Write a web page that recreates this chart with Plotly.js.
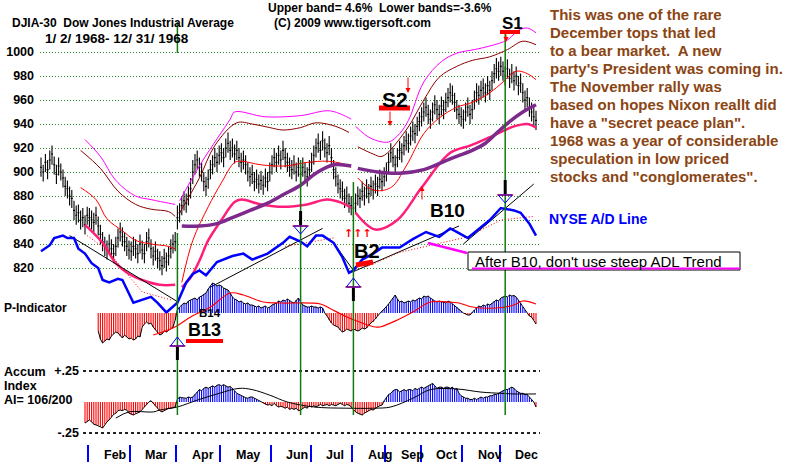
<!DOCTYPE html>
<html><head><meta charset="utf-8">
<script src="https://cdn.plot.ly/plotly-3.0.1.min.js"></script>
<style>html,body{margin:0;padding:0;background:#fff;}#chart{width:800px;height:462px;}</style>
</head><body><div id="chart"></div>
<script>
// ---------------- DATA ----------------
const months = ['Feb','Mar','Apr','May','Jun','Jul','Aug','Sep','Oct','Nov','Dec'];
const monthDays = [22,19,21,20,23,18,19,15,16,19,17,17];
const priceTicks = [820,840,860,880,900,920,940,960,980,1000];
const aiTicks = [0.25,-0.25];
const aiTickText = ['+.25','-.25'];

const closes = [
904,900,908,902,910,915,906,898,905,900,895,888,886,880,878,868,864,866,860,862,856,864,
862,860,858,864,855,848,842,838,835,840,836,832,838,845,850,846,842,838,835,
834,838,836,832,840,835,832,842,845,836,830,834,828,826,822,828,825,830,836,840,842,
862,866,872,876,874,880,886,900,906,910,904,900,892,888,894,902,906,912,908,914,
916,912,920,924,918,920,915,918,912,908,910,906,900,896,898,892,894,890,893,889,895,892,900,
906,912,908,914,910,918,912,908,904,902,906,900,904,898,904,900,896,902,
908,914,920,924,918,926,920,916,922,912,902,896,890,886,884,878,880,874,872,
870,874,880,878,884,880,886,882,888,885,890,888,894,892,896,
900,908,916,912,906,912,918,916,922,926,924,930,934,932,938,942,
946,950,954,948,944,950,956,952,948,955,952,958,962,966,964,958,952,948,946,
944,950,954,948,952,960,966,964,968,970,966,972,968,976,982,986,984,
988,984,980,986,978,982,976,980,972,974,966,960,962,954,950,946,943];
const highs = [
912,906,915,910,918,922,913,906,912,907,902,896,893,888,885,876,872,873,868,870,864,871,
870,868,866,871,863,856,850,846,843,848,844,840,846,853,858,854,850,846,843,
842,846,844,840,848,843,840,850,853,844,838,842,836,834,830,836,833,838,844,848,850,
872,874,880,884,882,888,895,910,915,918,912,908,900,896,902,910,914,920,916,922,
924,920,928,933,926,928,923,926,920,916,918,914,908,904,906,900,902,898,901,897,903,900,908,
914,920,916,922,918,926,920,916,912,910,914,908,912,906,912,908,904,910,
916,922,928,932,926,934,928,924,930,920,910,904,898,894,892,886,888,882,880,
878,882,888,886,892,888,894,890,896,893,898,896,902,900,904,
908,916,924,920,914,920,926,924,930,934,932,938,942,940,946,950,
954,958,962,956,952,958,964,960,956,963,960,966,970,974,972,966,960,956,954,
952,958,962,956,960,968,974,972,976,978,974,980,976,984,990,995,992,
996,992,988,994,986,990,984,988,980,982,974,968,970,962,958,954,951];
const lows = [
896,892,900,894,902,906,898,890,897,893,887,880,878,872,870,860,856,858,852,854,848,856,
854,852,850,856,847,840,834,830,827,832,828,824,830,837,842,838,834,830,827,
826,830,828,824,832,827,824,834,837,828,822,826,820,818,814,820,817,822,828,832,834,
852,858,864,868,866,872,878,890,898,902,896,892,884,880,886,894,898,904,900,906,
908,904,912,916,910,912,907,910,904,900,902,898,892,888,890,884,886,882,885,881,887,884,892,
898,904,900,906,902,910,904,900,896,894,898,892,896,890,896,892,888,894,
900,906,912,916,910,918,912,908,914,904,894,888,882,878,876,870,872,866,864,
862,866,872,870,876,872,878,874,880,877,882,880,886,884,888,
892,900,908,904,898,904,910,908,914,918,916,922,926,924,930,934,
938,942,946,940,936,942,948,944,940,947,944,950,954,958,956,950,944,940,938,
936,942,946,940,944,952,958,956,960,962,958,964,960,968,974,978,976,
980,976,972,978,970,974,968,972,964,966,958,952,954,946,942,938,935];

// bands (sparse readings, null = break)
const upperIdx = [20,27,34,43,50,58,61,null,63,73,86,88,102,118,131,139,141,null,143,150,158,163,167,174,182,189,197,204,212,217,221,225];
const upperVal = [927,913,893,880,877,874,873,null,876,908,944,950,946,947,951,946,944,null,938,928,925,932,943,975,992,999,1002,1005,1010,1018,1020,1016];
const maroonIdx = [18,27,35,43,50,58,61,null,63,72,79,89,96,104,110,118,125,134,140,null,144,151,155,166,174,181,189,196,204,212,219,225];
const maroonVal = [918,903,884,873,869,867,863,null,866,895,922,941,940,937,935,937,941,938,933,null,921,915,913,935,960,979,988,993,996,1002,1009,1006];
const maIdx = [18,25,30,37,43,50,58,61,null,64,69,76,82,88,91,100,111,121,130,137,141,null,144,151,159,166,174,181,189,196,204,210,216,221,225];
const maVal = [887,877,861,851,843,840,838,836,null,808,843,871,891,908,909,906,905,908,909,907,904,null,895,885,887,905,932,945,954,958,966,975,984,982,977];
const lowerIdx = [20,28,34,40,46,54,61,null,64,68,72,76,82,88,91,100,110,121,130,137,141,null,143,152,162,173,186,195,204,215,221,225];
const lowerVal = [856,841,824,815,810,806,806,null,804,812,826,843,860,875,877,873,871,873,877,874,870,null,866,852,860,887,916,922,929,938,940,937];
const longIdx = [64,72,80,87,95,103,110,118,125,133,141,null,144,153,163,174,186,196,202,208,213,219,225];
const longVal = [855,855,857,862,868,874,881,889,899,906,905,null,903,900,899,902,911,918,924,934,942,950,956];

// NYSE A/D line (plotted on the price panel's scale)
const adlIdx = [0,4,6,10,12,15,17,20,23,26,28,31,35,37,42,45,50,53,57,62,66,69,72,75,80,87,92,96,103,110,113,118,121,125,128,133,137,140,142,146,151,155,163,169,175,181,186,190,194,200,204,209,215,218,222,225];
const adlVal = [834,839,845,847,845,845,836,832,824,820,810,808,811,810,791,793,796,791,783,791,808,815,818,814,825,830,832,827,832,841,846,842,838,847,847,841,829,816,818,827,832,837,837,844,850,846,853,849,845,854,860,870,868,866,857,847];
const adlTrendIdx = [13,62,null,77,128,null,133,142,null,142,190,null,192,224];
const adlTrendVal = [847,792,null,804,853,null,841,818,null,817,855,null,840,890];
const adlMaIdx = [21,30,46,60,null,111,133,null,148,163,194,209,224];
const adlMaVal = [847,835,800,793,null,838,845,null,821,833,846,860,863];

// P-Indicator
const pindStart = 26;
const pindVals = [
-180,-260,-300,-280,-260,-270,-230,-210,-190,-200,
-230,-250,-220,-240,-260,-250,-270,-260,-230,-240,
-140,-110,-90,-110,-100,-140,-170,-200,-220,-210,
-180,-190,-170,-150,-140,-70,
30,60,80,100,90,120,130,140,150,130,
160,170,190,200,240,270,300,290,270,280,
270,250,240,230,200,160,140,130,110,120,
100,90,100,80,80,70,60,70,50,60,
70,50,60,80,90,100,120,110,130,120,
140,120,110,100,130,150,110,80,70,60,
60,70,60,60,50,60,50,0,-30,-70,
-100,-120,-130,-140,-170,-190,-180,-160,-170,-180,
-160,-170,-180,-170,-150,-160,-150,-120,-100,-90,
-60,-30,0,20,40,60,90,120,150,180,
140,110,120,100,110,120,110,130,120,140,
150,140,170,160,170,150,130,120,110,120,
110,110,100,120,110,90,70,60,40,20,
0,-10,-20,-20,10,30,50,70,60,80,
70,90,80,100,120,130,120,150,160,170,
160,180,170,175,160,130,100,60,30,0,
-30,-40,-70,-110];
const pmaIdx = [51,60,68,77,86,92,101,109,127,131,139,146,152,154,162,169,177,185,190,196,207,215,219,225];
const pmaVal = [-220,-150,-40,60,200,180,110,100,90,50,-40,-100,-140,-140,-70,10,110,110,100,60,50,80,120,90];

// Accumulation Index
const aiStart = 20;
const aiVals = [
-0.17,-0.16,-0.145,-0.16,-0.18,-0.185,-0.19,-0.2,-0.21,-0.18,
-0.16,-0.145,-0.12,-0.1,-0.09,-0.07,-0.065,-0.07,-0.06,-0.065,
-0.09,-0.1,-0.105,-0.095,-0.085,-0.08,-0.06,-0.04,-0.02,0.0,
0.01,-0.01,-0.03,-0.05,-0.07,-0.08,-0.07,-0.06,-0.05,-0.05,
-0.045,-0.04,0.02,0.04,0.035,0.03,0.03,0.04,0.035,0.04,
0.06,0.08,0.1,0.09,0.11,0.12,0.11,0.12,0.13,0.12,
0.135,0.14,0.13,0.14,0.13,0.12,0.125,0.11,0.09,0.07,
0.06,0.05,0.04,0.035,0.03,0.04,0.04,0.03,0.02,0.01,
0,-0.01,-0.02,-0.025,-0.02,-0.03,-0.01,-0.03,-0.04,-0.035,
-0.04,-0.05,-0.04,-0.06,-0.05,-0.06,-0.05,-0.07,-0.065,-0.05,
-0.04,-0.05,-0.03,-0.04,-0.03,-0.04,-0.03,-0.02,-0.03,-0.025,
-0.02,-0.03,-0.02,-0.025,-0.03,-0.02,-0.01,-0.02,-0.03,-0.02,
-0.025,-0.04,-0.06,-0.08,-0.09,-0.1,-0.105,-0.09,-0.08,-0.07,
-0.06,-0.065,-0.05,-0.04,-0.03,-0.025,0.01,0.04,0.06,0.07,
0.09,0.1,0.1,0.08,0.09,0.1,0.09,0.1,0.1,0.09,
0.11,0.1,0.11,0.12,0.11,0.12,0.13,0.14,0.15,0.13,
0.11,0.12,0.12,0.11,0.12,0.12,0.11,0.12,0.1,0.11,
0.07,0.05,0.04,0.03,0.03,0.02,0.02,0.03,0.02,0.03,
0.04,0.03,0.04,0.04,0.05,0.05,0.06,0.06,0.07,0.08,
0.09,0.1,0.1,0.11,0.12,0.11,0.09,0.08,0.07,0.07,
0.06,0.06,0.04,0.02,0,-0.04];
const aimaIdx = [34,40,51,54,62,71,81,90,96,104,112,124,139,151,159,169,177,189,200,209,215,225];
const aimaVal = [-0.13,-0.08,-0.08,-0.065,-0.04,0.015,0.07,0.11,0.10,0.055,0,-0.04,-0.05,-0.05,-0.04,0.03,0.10,0.105,0.08,0.07,0.065,0.065];

// signals
const signalIdx = [62,118,142,211];
const signalDir = ['up','down','up','down'];

const noteLines = [
 'This was one of the rare',
 'December tops that led',
 'to a bear market.\u00a0 A new',
 "party's President was coming in.",
 'The November rally was',
 'based on hopes Nixon reallt did',
 'have a "secret peace plan".',
 '1968 was a year of considerable',
 'speculation in low priced',
 'stocks and "conglomerates".'];

// ---------------- GEOMETRY ----------------
const W=800,H=462,ML=40,MR=260,MB=18;
const PW=W-ML-MR, PH=H-MB;
const X0=41, DX=2.2;
const xr=[(ML-X0)/DX,(W-MR-X0)/DX];
const PX=p=>(p-ML)/PW, PY=p=>1-p/PH, I=p=>(p-X0)/DX;
const FF='"Liberation Sans", Arial, sans-serif';

const idx = closes.map((_,i)=>i);
const monthStart=[]; {let c=0; for(let k=0;k<monthDays.length-1;k++){c+=monthDays[k]; monthStart.push(c-0.5);} }
const pIdx = pindVals.map((_,k)=>pindStart+k);
const aIdx = aiVals.map((_,k)=>aiStart+k);

const priceRange=[1000-(320-52)/1.2, 1000+(52-10)/1.2];
const aiRange=[(402-440)/124,(402-360)/124];
const aiDom=[PY(440),PY(360)];

const traces=[
 {x:upperIdx,y:upperVal,mode:'lines',line:{color:'#ff00ff',width:1,shape:'spline'},xaxis:'x',yaxis:'y'},
 {x:maroonIdx,y:maroonVal,mode:'lines',line:{color:'#8b0000',width:1,shape:'spline'},xaxis:'x',yaxis:'y'},
 {x:maIdx,y:maVal,mode:'lines',line:{color:'#ff0000',width:1,shape:'spline'},xaxis:'x',yaxis:'y'},
 {x:lowerIdx,y:lowerVal,mode:'lines',line:{color:'#ff1f7a',width:2.5,shape:'spline'},xaxis:'x',yaxis:'y'},
 {x:longIdx,y:longVal,mode:'lines',line:{color:'#7d2a8c',width:3.5,shape:'spline'},xaxis:'x',yaxis:'y'},
 {type:'ohlc',x:idx,open:closes,high:highs,low:lows,close:closes,tickwidth:0.45,
  increasing:{line:{color:'#000',width:1.1}},decreasing:{line:{color:'#000',width:1.1}},xaxis:'x',yaxis:'y',hoverinfo:'skip'},
 {x:adlTrendIdx,y:adlTrendVal,mode:'lines',line:{color:'#000',width:1},xaxis:'x',yaxis:'y4'},
 {x:adlMaIdx,y:adlMaVal,mode:'lines',line:{color:'#ff0000',width:1,dash:'1px,2px'},xaxis:'x',yaxis:'y4'},
 {x:adlIdx,y:adlVal,mode:'lines',line:{color:'#0000ff',width:2.5},xaxis:'x',yaxis:'y4'},
 {type:'bar',x:pIdx,y:pindVals,width:0.5,marker:{color:pindVals.map(v=>v>=0?'#0000ff':'#ff0000'),line:{width:0}},xaxis:'x',yaxis:'y2'},
 {x:pIdx,y:pindVals,mode:'lines',line:{color:'#000',width:1},xaxis:'x',yaxis:'y2'},
 {x:pmaIdx,y:pmaVal,mode:'lines',line:{color:'#ff0000',width:1.2,shape:'spline'},xaxis:'x',yaxis:'y2'},
 {type:'bar',x:aIdx,y:aiVals,width:0.5,marker:{color:aiVals.map(v=>v>=0?'#0000ff':'#ff0000'),line:{width:0}},xaxis:'x3',yaxis:'y3'},
 {x:aIdx,y:aiVals,mode:'lines',line:{color:'#000',width:1},xaxis:'x3',yaxis:'y3'},
 {x:aimaIdx,y:aimaVal,mode:'lines',line:{color:'#000',width:1,shape:'spline'},xaxis:'x3',yaxis:'y3'}
];

// ---------------- SHAPES ----------------
const shapes=[];
const greenTop=[233,160,182,33];
signalIdx.forEach((s,k)=>{
  shapes.push({type:'line',xref:'x',yref:'paper',x0:s,x1:s,y0:PY(415),y1:PY(greenTop[k]),line:{color:'#107a10',width:1.5}});
});
shapes.push({type:'line',xref:'x',yref:'paper',x0:signalIdx[0],x1:signalIdx[0],y0:PY(53),y1:PY(22),line:{color:'#107a10',width:1.5}});
const glyphY=[346,226,287,195];
signalIdx.forEach((s,k)=>{
  const yr=glyphY[k], hw=8/DX, tw=7/DX;
  shapes.push({type:'line',xref:'x',yref:'paper',x0:s-hw,x1:s+hw,y0:PY(yr),y1:PY(yr),line:{color:'#ff0000',width:1.5}});
  if(signalDir[k]==='up'){
    shapes.push({type:'path',xref:'x',yref:'paper',path:`M${s-tw},${PY(yr)} L${s+tw},${PY(yr)} L${s},${PY(yr-9)} Z`,line:{color:'#0000ff',width:1}});
    shapes.push({type:'line',xref:'x',yref:'paper',x0:s,x1:s,y0:PY(yr+1),y1:PY(yr+14),line:{color:'#000',width:3}});
  } else {
    shapes.push({type:'path',xref:'x',yref:'paper',path:`M${s-tw},${PY(yr)} L${s+tw},${PY(yr)} L${s},${PY(yr+8)} Z`,line:{color:'#0000ff',width:1}});
    shapes.push({type:'line',xref:'x',yref:'paper',x0:s,x1:s,y0:PY(yr-15),y1:PY(yr-1),line:{color:'#000',width:3}});
  }
});
const redBar=(x0,y0,x1,y1,w)=>shapes.push({type:'line',xref:'paper',yref:'paper',x0:PX(x0),y0:PY(y0),x1:PX(x1),y1:PY(y1),line:{color:'#ff0000',width:w}});
redBar(186,341,223,341,4);   // B13
redBar(379,108,410,108,5);   // S2
redBar(500,32,520,32,4);     // S1
redBar(356,265,373,262,5);   // B2
// note box
shapes.push({type:'rect',xref:'paper',yref:'paper',x0:PX(468),x1:PX(740),y0:PY(270),y1:PY(252),line:{color:'#000',width:1},fillcolor:'#fff'});
shapes.push({type:'line',xref:'paper',yref:'paper',x0:PX(472),x1:PX(740),y0:PY(268.5),y1:PY(268.5),line:{color:'#ff00ff',width:2}});
shapes.push({type:'line',xref:'paper',yref:'paper',x0:PX(428),x1:PX(467),y0:PY(243),y1:PY(253),line:{color:'#ff00ff',width:2.5}});

// ---------------- ANNOTATIONS ----------------
const ann=[];
const txt=(t,x,y,size,extra={})=>ann.push(Object.assign({xref:'paper',yref:'paper',x:PX(x),y:PY(y),xanchor:'left',yanchor:'middle',text:t,showarrow:false,
  font:{family:FF,size:size,color:'#000',weight:'bold'}},extra));
txt('DJIA-30\u00a0\u00a0Dow Jones Industrial Average',10,23,12);
txt('1/ 2/ 1968- 12/ 31/ 1968',43,38,13.5);
txt('Upper band= 4.6%\u00a0\u00a0Lower bands=-3.6%',266,8,12);
txt('(C) 2009 www.tigersoft.com',272,23,12);
txt('P-Indicator',2,308,12);
txt('Accum',2,372,12.5);
txt('Index',2,386,12.5);
txt('AI= 106/200',2,400,12.5);
txt('B14',197,313,11.5);
txt('B13',186,330,18);
txt('B2',352,251,20);
txt('S2',380,99,21);
txt('S1',500,23,17);
txt('B10',428,210,19);
txt('NYSE A/D Line',547,219,14,{font:{family:FF,size:14,color:'#0000ff',weight:'bold'}});
txt("After B10, don't use steep ADL Trend",473,261,15,{font:{family:FF,size:15,color:'#000',weight:'normal'}});
txt('↑↑↑',342,233,11,{font:{family:'DejaVu Sans',size:11,color:'#ff0000',weight:'bold'}});
noteLines.forEach((t,k)=>txt(t,548,15+k*17.9,15,{font:{family:FF,size:15,color:'#8b4513',weight:'bold'}}));
months.forEach((m,k)=>ann.push({xref:'x',yref:'paper',x:monthStart[k]+6,y:PY(455),xanchor:'left',yanchor:'middle',text:m,showarrow:false,
  font:{family:FF,size:12.5,color:'#000',weight:'bold'}}));
const arrow=(x,tip,tail)=>ann.push({xref:'paper',yref:'paper',x:PX(x),y:PY(tip),ax:0,ay:tail-tip,text:'',showarrow:true,arrowhead:2,arrowsize:1,arrowwidth:1,arrowcolor:'#ff0000'});
arrow(408,93,76); arrow(390,126,110); arrow(506,42,33); arrow(422,186,201);

const layout={
  width:W,height:H,margin:{l:ML,r:MR,t:0,b:MB,pad:0},
  paper_bgcolor:'#fff',plot_bgcolor:'rgba(0,0,0,0)',showlegend:false,hovermode:false,
  xaxis:{range:xr,domain:[0,1],anchor:'free',position:0,tickvals:monthStart,ticks:'outside',ticklen:18,tickwidth:2,tickcolor:'#0000ff',
    showticklabels:false,showgrid:false,zeroline:false,showline:false,rangeslider:{visible:false}},
  yaxis:{domain:[PY(320),PY(10)],range:priceRange,anchor:'x',tickvals:priceTicks,ticks:'',ticklabelstandoff:5,
    tickfont:{family:FF,size:12.5,color:'#000',weight:'bold'},showgrid:true,gridcolor:'#2a8a2a',griddash:'1px,2px',gridwidth:1,zeroline:false,showline:false},
  yaxis4:{overlaying:'y',range:priceRange,visible:false},
  yaxis2:{domain:[PY(352),PY(280)],range:[(313-352)*10,(313-280)*10],anchor:'x',visible:false},
  xaxis3:{domain:[PX(83),1],range:[I(83),xr[1]],anchor:'y3',showgrid:false,zeroline:false,showline:false,showticklabels:false,ticks:''},
  yaxis3:{domain:aiDom,range:aiRange,anchor:'x3',tickvals:aiTicks,ticktext:aiTickText,
    ticks:'',ticklabelstandoff:3,tickfont:{family:FF,size:12.5,color:'#000',weight:'bold'},
    showgrid:true,gridcolor:'#222222',griddash:'dot',gridwidth:1.5,zeroline:false,showline:false},
  shapes:shapes,annotations:ann
};
Plotly.newPlot('chart',traces,layout,{staticPlot:true,displayModeBar:false});
</script></body></html>
